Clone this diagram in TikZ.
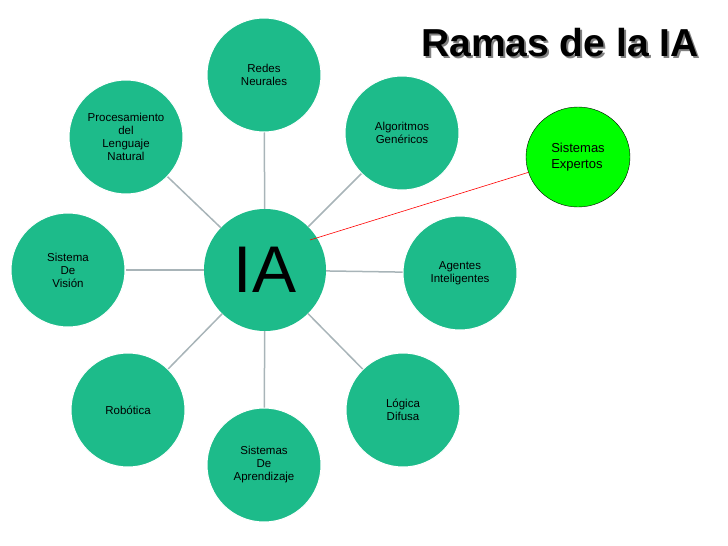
\documentclass[tikz,border=0pt]{standalone}
\usepackage{fontspec}
\setmainfont{Liberation Sans}
\usetikzlibrary{shapes.geometric}
\definecolor{teal1}{HTML}{1DBB8A}
\definecolor{lnk}{HTML}{A8B4B8}
\begin{document}
\begin{tikzpicture}[x=1pt,y=-1pt,
 br/.style={circle,fill=teal1,draw=white,line width=1pt,minimum size=114pt,inner sep=0pt,align=center,font=\fontsize{11.5}{13}\selectfont},
 lk/.style={draw=lnk,line width=1.5pt}]
\useasboundingbox (0,0) rectangle (728,546);
\node[circle,fill=teal1,minimum size=122pt,inner sep=0pt,font=\fontsize{66}{66}\selectfont] (ia) at (265,270) {IA};
\node[br] (a) at (264,75) {Redes\\Neurales};
\node[br] (b) at (402,133) {Algoritmos\\Genéricos};
\node[br] (c) at (460,273) {Agentes\\Inteligentes};
\node[br] (d) at (403,410) {Lógica\\Difusa};
\node[br] (e) at (264,465) {Sistemas\\De\\Aprendizaje};
\node[br] (f) at (128,410) {Robótica};
\node[br] (g) at (68,270) {Sistema\\De\\Visión};
\node[br] (h) at (126,137) {Procesamiento\\del\\Lenguaje\\Natural};
\foreach \n in {a,b,c,d,e,f,g,h} \draw[lk] (ia) -- (\n);
\node[ellipse,fill=green,draw=black,minimum width=104pt,minimum height=100pt,align=left,font=\fontsize{13}{16}\selectfont] (x) at (578,157) {Sistemas\\Expertos};
\draw[red,line width=0.6pt] (310,240) -- (x);
\node[font=\fontsize{39}{39}\selectfont\bfseries] (t) at (560,44) {\makebox[0pt][l]{\hspace{2pt}\raisebox{-2pt}{\color{gray}Ramas de la IA}}Ramas de la IA};
\end{tikzpicture}
\end{document}
